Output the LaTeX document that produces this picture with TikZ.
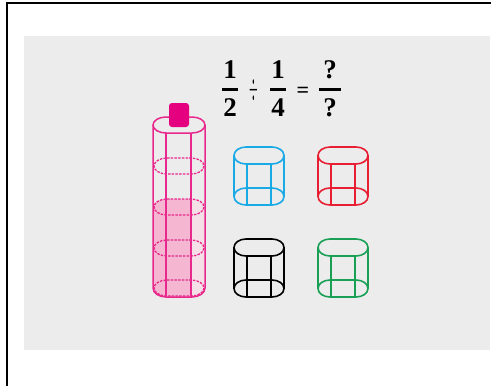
\documentclass[tikz,border=0pt]{standalone}
\usepackage{amsmath}
\usepackage{fontspec}
\setmainfont{Liberation Serif}
\usepackage{xcolor}

\definecolor{panelgray}{RGB}{236,236,236}
\definecolor{magline}{RGB}{232,40,140}
\definecolor{capmag}{RGB}{228,0,127}
\definecolor{pinkfill}{RGB}{244,182,208}
\definecolor{pinklight}{RGB}{246,224,232}
\definecolor{tileblue}{RGB}{25,170,230}
\definecolor{tilered}{RGB}{232,30,50}
\definecolor{tilegreen}{RGB}{25,160,85}

% flat ellipse: centre, half width, half height, radius of the ends
\newcommand\pill[4]{#1 ++({-(#2)+(#4)},{-(#3)}) -- ++({2*((#2)-(#4))},0)
  arc[start angle=-90,end angle=90,x radius=#4,y radius=#3] -- ++({-2*((#2)-(#4))},0)
  arc[start angle=90,end angle=270,x radius=#4,y radius=#3] -- cycle}

\begin{document}
\begin{tikzpicture}[x=1pt,y=-1pt,
  bottleline/.style={draw=magline,line width=1.5pt},
  ring/.style={draw=magline,line width=1.3pt,dash pattern=on 2.5pt off 1.2pt},
  frac/.style={font=\fontsize{27}{30}\selectfont,inner sep=0pt,anchor=base}]
  \useasboundingbox (0,0) rectangle (500,386);
  % frame and grey panel
  \draw[line width=2pt] (6.5,386) -- (6.5,2.5) -- (491,2.5);
  \fill[panelgray] (24,36) rectangle (490,350);

  % 1/2 : 1/4 = ?/?
  \node[frac] (half) at (230,95.75) {$\genfrac{}{}{2.6pt}{0}{\kern1pt\textbf{1}\kern1pt}{\kern1pt\textbf{2}\kern1pt}$};
  \node[inner sep=0pt,font=\fontsize{26}{28}\selectfont,xscale=0.45,yscale=1.5] (divsign) at (254,90) {$\div$};
  \node[frac] (quarter) at (278,95.75) {$\genfrac{}{}{2.6pt}{0}{\kern1pt\textbf{1}\kern1pt}{\kern1pt\textbf{4}\kern1pt}$};
  \node[inner sep=0pt,anchor=base,font=\fontsize{22}{24}\selectfont\bfseries] (eqsign) at (303,97) {=};
  \node[frac] (answer) at (330,95.75) {$\genfrac{}{}{2.6pt}{0}{\kern4pt\textbf{?}\kern4pt}{\kern4pt\textbf{?}\kern4pt}$};

  % bottle: liquid first
  \fill[pinklight] (153,207) arc[start angle=180,end angle=270,x radius=13,y radius=8]
    -- (192,199) arc[start angle=270,end angle=360,x radius=13,y radius=8]
    -- (205,288) arc[start angle=0,end angle=90,x radius=13,y radius=9]
    -- (166,297) arc[start angle=90,end angle=180,x radius=13,y radius=9] -- cycle;
  \fill[pinkfill] (153,207) arc[start angle=180,end angle=270,x radius=13,y radius=8]
    -- (191,199) -- (191,297)
    -- (166,297) arc[start angle=90,end angle=180,x radius=13,y radius=9] -- cycle;
  \foreach \c in {166,207,248,288}
    \draw[ring] \pill{(179,\c)}{25}{8}{13};
  \draw[bottleline] \pill{(179,125)}{26}{8}{13};
  \draw[bottleline] (153,125) -- (153,288) arc[start angle=180,end angle=90,x radius=13,y radius=9]
    -- (192,297) arc[start angle=90,end angle=0,x radius=13,y radius=9] -- (205,125);
  \draw[bottleline] (166,133) -- (166,297) (191,133) -- (191,297);
  \fill[capmag,rounded corners=3pt] (169,103) rectangle (189,127);

  % four tiles
  \foreach \tx/\ty/\tc in {234/147/tileblue,318/147/tilered,234/239/black,318/239/tilegreen}{
    \begin{scope}[shift={(\tx,\ty)},color=\tc,line width=1.6pt]
      \draw \pill{(25,8.5)}{25}{8.5}{12};
      \draw \pill{(25,49.5)}{25}{8.5}{12};
      \draw (0,8.5) -- (0,49.5) (50,8.5) -- (50,49.5);
      \draw (13,17) -- (13,58) (37,17) -- (37,58);
    \end{scope}
  }
\end{tikzpicture}
\end{document}
